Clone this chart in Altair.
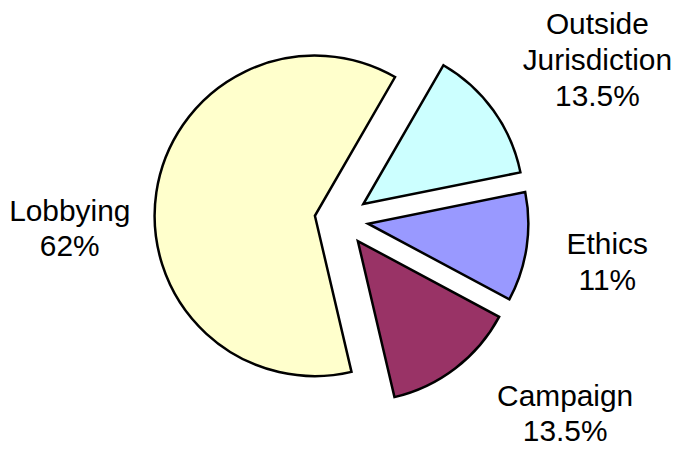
import math
import altair as alt
import pandas as pd

# ---- data ----
names = ["Outside Jurisdiction", "Ethics", "Campaign", "Lobbying"]
display_names = ["Outside\nJurisdiction", "Ethics", "Campaign", "Lobbying"]
pct_text = ["13.5%", "11%", "13.5%", "62%"]
values = [13.5, 11, 13.5, 62]
colors = ["#CCFFFF", "#9999FF", "#993366", "#FFFFCC"]

df = pd.DataFrame({
    "name": names,
    "label": [d + "\n" + p for d, p in zip(display_names, pct_text)],
    "value": values,
    "order": list(range(len(names))),
})

# ---- layout / style ----
W, H = 665, 433
CX, CY = 335, 211.7        # pie centre inside the plot area
R = 161                    # pie radius
EXPLODE = 27               # explosion distance of every slice
START = math.pi / 6        # first slice starts at 30 deg (clockwise from 12 o'clock)
LABEL_R = 255
LABEL_NUDGE = {            # label placement tweaks (dx, dy)
    "Outside Jurisdiction": (28, -22),
    "Ethics": (-12, -7),
    "Campaign": (53, -37),
    "Lobbying": (6, 42),
}
FONT = "Liberation Sans"

base = (
    alt.Chart(df)
    .transform_window(cum="sum(value)", sort=[alt.SortField("order", order="ascending")], frame=[None, 0])
    .transform_joinaggregate(total="sum(value)")
    .transform_calculate(mid=f"{START} + 2*PI*(datum.cum - datum.value/2)/datum.total")
    .transform_calculate(
        cx=f"{CX} + {EXPLODE}*sin(datum.mid)",
        cy=f"{CY} - {EXPLODE}*cos(datum.mid)",
    )
    .transform_calculate(
        lx=f"datum.cx + {LABEL_R}*sin(datum.mid)",
        ly=f"datum.cy - {LABEL_R}*cos(datum.mid)",
    )
)

arcs = base.mark_arc(outerRadius=R, stroke="black", strokeWidth=2.5, strokeJoin="miter").encode(
    theta=alt.Theta("value:Q", stack=True,
                    scale=alt.Scale(range=[START, START + 2 * math.pi])),
    order=alt.Order("order:Q", sort="ascending"),
    color=alt.Color("name:N", scale=alt.Scale(domain=names, range=colors), legend=None),
    x=alt.X("cx:Q", scale=None, axis=None),
    y=alt.Y("cy:Q", scale=None, axis=None),
)

labels = []
for n in names:
    dx, dy = LABEL_NUDGE[n]
    labels.append(
        base.transform_filter(alt.datum.name == n)
        .mark_text(font=FONT, fontSize=30, lineHeight=36, lineBreak="\n",
                   align="center", baseline="alphabetic", color="black", dx=dx, dy=dy)
        .encode(
            x=alt.X("lx:Q", scale=None, axis=None),
            y=alt.Y("ly:Q", scale=None, axis=None),
            text="label:N",
        )
    )

chart = (
    alt.layer(arcs, *labels)
    .properties(width=W, height=H, padding=0)
    .configure_view(strokeWidth=0)
)

chart.save("out.html", embed_options={"renderer": "svg", "actions": False})
